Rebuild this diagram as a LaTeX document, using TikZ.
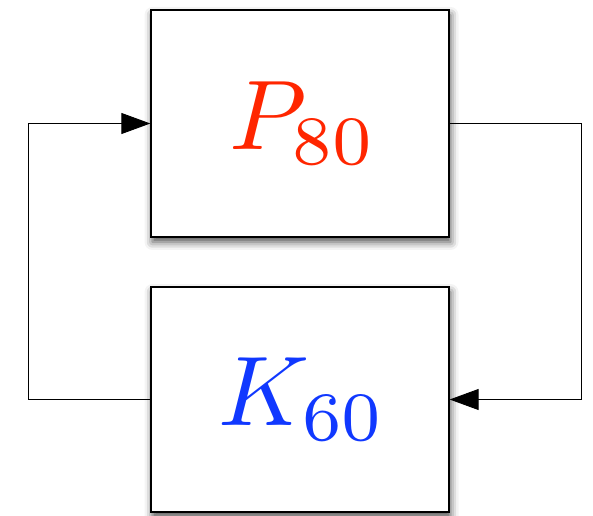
\documentclass[tikz,border=0pt]{standalone}
\usepackage{graphicx}
\usetikzlibrary{arrows.meta,shadows.blur}
\definecolor{pred}{RGB}{255,38,0}
\definecolor{kblue}{RGB}{16,56,255}
\tikzset{
  blockbox/.style={draw=black, line width=1.3pt, fill=white, minimum width=298pt,
    inner sep=0pt,
    blur shadow={shadow xshift=1.5pt, shadow yshift=-5pt, shadow blur radius=8pt, shadow opacity=70}},
  conn/.style={line width=0.9pt, -{Triangle[length=29pt,width=21pt]}}
}
\begin{document}
\begin{tikzpicture}[x=1pt,y=1pt]
\useasboundingbox (0,0) rectangle (593,515);
\node[blockbox, minimum height=227pt, text=pred] (P) at (300,391.5) {\hspace*{6pt}\scalebox{9.9}{$P_{80}$}};
\node[blockbox, minimum height=225pt, text=kblue] (K) at (300,115.5) {\hspace*{4pt}\scalebox{9.9}{$K_{60}$}};
\coordinate (lc) at (28,0);
\coordinate (rc) at (581,0);
\draw[conn] (K.west) -- (K.west -| lc) -- (P.west -| lc) -- (P.west);
\draw[conn] (P.east) -- (P.east -| rc) -- (K.east -| rc) -- (K.east);
\end{tikzpicture}
\end{document}
